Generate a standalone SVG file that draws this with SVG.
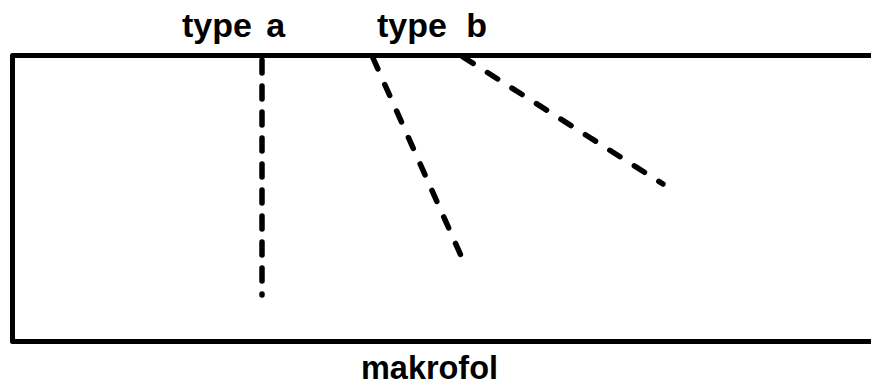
<svg xmlns="http://www.w3.org/2000/svg" width="871" height="387" viewBox="0 0 871 387">
<style>
.lbl{font-family:"Liberation Sans",Arial,sans-serif;font-weight:bold;fill:#000}
.frame{fill:none;stroke:#000;stroke-width:5;stroke-linejoin:round}
.track{fill:none;stroke:#000;stroke-width:5.5;stroke-linecap:round}
</style>
<rect width="871" height="387" fill="#fff"/>
<g id="makrofol">
<path class="frame" d="M880 55.5 L12.5 55.5 L12.5 341.5 L880 341.5"/>
<text class="lbl" x="361" y="379" font-size="33" textLength="137" lengthAdjust="spacingAndGlyphs">makrofol</text>
</g>
<g id="type-a">
<text class="lbl" x="182" y="37" font-size="34" word-spacing="5">type a</text>
</g>
<g id="type-b">
<text class="lbl" x="377" y="37" font-size="34" word-spacing="10">type b</text>
</g>
<g id="connectors">
<path class="track" d="M262 60 L262 295" stroke-dasharray="13 13"/>
<path class="track" d="M373 58 L462 258" stroke-dasharray="12 17"/>
<path class="track" d="M463 57 L663 184" stroke-dasharray="12 17"/>
</g>
</svg>
